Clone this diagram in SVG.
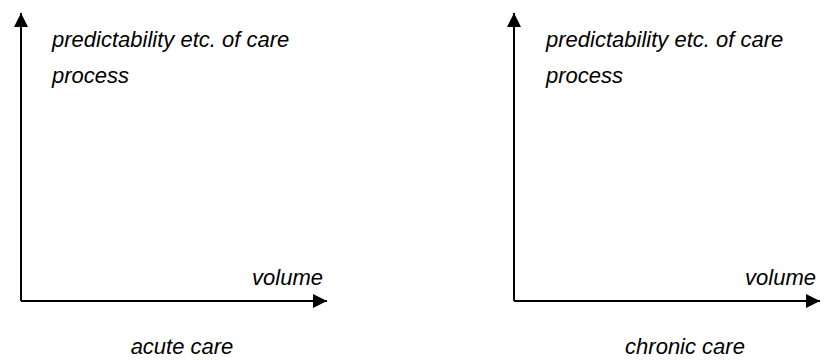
<svg xmlns="http://www.w3.org/2000/svg" width="836" height="360" viewBox="0 0 836 360">
  <style>
    .axis { stroke: #000; stroke-width: 2; fill: none; }
    .lbl { font-family: "Liberation Sans", Arial, sans-serif; font-style: italic; font-size: 22px; fill: #000; }
  </style>
  <defs>
    <marker id="arrow" viewBox="0 0 10 10" refX="10" refY="5" markerWidth="7" markerHeight="7" markerUnits="strokeWidth" orient="auto">
      <path d="M0,0 L10,5 L0,10 Z" fill="#000"/>
    </marker>
  </defs>
  <g id="connectors">
    <path class="axis" d="M21,301 L21,13" marker-end="url(#arrow)"/>
    <path class="axis" d="M21,301 L327,301" marker-end="url(#arrow)"/>
    <path class="axis" d="M514,301 L514,13" marker-end="url(#arrow)"/>
    <path class="axis" d="M514,301 L820,301" marker-end="url(#arrow)"/>
  </g>
  <g id="acute">
    <text class="lbl" x="52" y="47">predictability etc. of care</text>
    <text class="lbl" x="52" y="83">process</text>
    <text class="lbl" x="323" y="285" text-anchor="end">volume</text>
    <text class="lbl" x="182" y="354" text-anchor="middle">acute care</text>
  </g>
  <g id="chronic">
    <text class="lbl" x="546" y="47">predictability etc. of care</text>
    <text class="lbl" x="546" y="83">process</text>
    <text class="lbl" x="816" y="285" text-anchor="end">volume</text>
    <text class="lbl" x="685" y="354" text-anchor="middle">chronic care</text>
  </g>
</svg>
